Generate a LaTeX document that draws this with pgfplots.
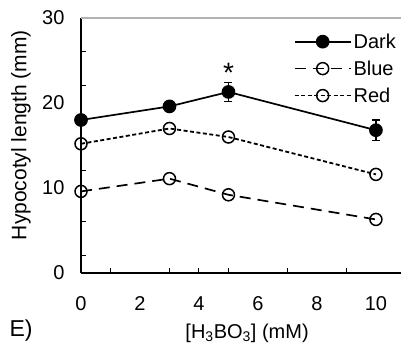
\documentclass[border=0pt]{standalone}
\usepackage{fontspec}
\setmainfont{Liberation Sans}
\usepackage{pgfplots}
\pgfplotsset{compat=1.18}
\begin{document}
\begin{tikzpicture}[x=1bp,y=1bp]
\begin{axis}[
  at={(81bp,73bp)}, anchor=south west,
  scale only axis, width=320bp, height=255bp,
  xmin=0, xmax=10.85, ymin=0, ymax=30,
  axis x line*=bottom, axis y line*=left,
  axis line style={line width=1.3bp, black},
  font=\fontsize{20bp}{23bp}\selectfont,
  /pgf/number format/assume math mode=true,
  xtick={0,2,4,6,8,10}, ytick={0,10,20,30},
  tick align=inside, major tick length=0pt,
  tick style={line width=1bp, black},
  extra x ticks={1,3,4,5,7,9}, extra x tick labels={},
  extra x tick style={major tick length=5bp},
  extra y ticks={2,6,12,22,26}, extra y tick labels={},
  extra y tick style={major tick length=5bp},
  xticklabel style={yshift=-20bp},
  yticklabel style={xshift=-13bp},
  xlabel={[H\textsubscript{3}BO\textsubscript{3}] (mM)},
  xlabel style={at={(axis description cs:0.519,-0.258)}, anchor=base},
  ylabel={Hypocotyl length (mm)},
  ylabel style={at={(axis description cs:-0.1875,0.541)}, anchor=center, rotate=0,
    font=\fontsize{21bp}{24bp}\selectfont},
  legend style={draw=none, fill=none, at={(1.0,0.955)}, anchor=north east,
    font=\fontsize{20bp}{23bp}\selectfont, row sep=7bp,
    /tikz/every even column/.append style={column sep=4bp}},
  legend cell align=left,
  legend image code/.code={\draw[mark repeat=2,mark phase=2,#1] plot coordinates {(0bp,0bp) (28bp,0bp) (56bp,0bp)};},
  clip=false,
]
\draw[gray!60, line width=1.2bp] (rel axis cs:0,1) -- (rel axis cs:1,1);
\addplot[black, line width=1.7bp, mark=*, mark size=6bp, mark options={solid, fill=black},
  error bars/.cd, y dir=both, y explicit, error bar style={line width=1.3bp, solid},
  error mark options={rotate=90, mark size=4bp, line width=1.3bp}]
  coordinates {(0,18.0) +- (0,0.5) (3,19.6) +- (0,0.5) (5,21.3) +- (0,1.1) (10,16.8) +- (0,1.2)};
\addlegendentry{Dark}
\addplot[black, line width=1.7bp, dash pattern=on 11bp off 7bp, mark=o, mark size=6bp,
  mark options={solid, fill=white, line width=1.5bp}]
  coordinates {(0,9.6) (3,11.1) (5,9.2) (10,6.3)};
\addlegendentry{Blue}
\addplot[black, line width=1.8bp, dash pattern=on 4bp off 2.5bp, mark=o, mark size=6bp,
  mark options={solid, fill=white, line width=1.5bp}]
  coordinates {(0,15.2) (3,17.0) (5,16.0) (10,11.6)};
\addlegendentry{Red}
\node[font=\fontsize{28bp}{30bp}\selectfont] at (axis cs:5,23.6) {*};
\end{axis}
\node[anchor=base west, font=\fontsize{23bp}{26bp}\selectfont] at (6bp,10bp) {E)};
\pgfresetboundingbox
\path[use as bounding box] (0,0) rectangle (401bp,346bp);
\end{tikzpicture}
\end{document}
